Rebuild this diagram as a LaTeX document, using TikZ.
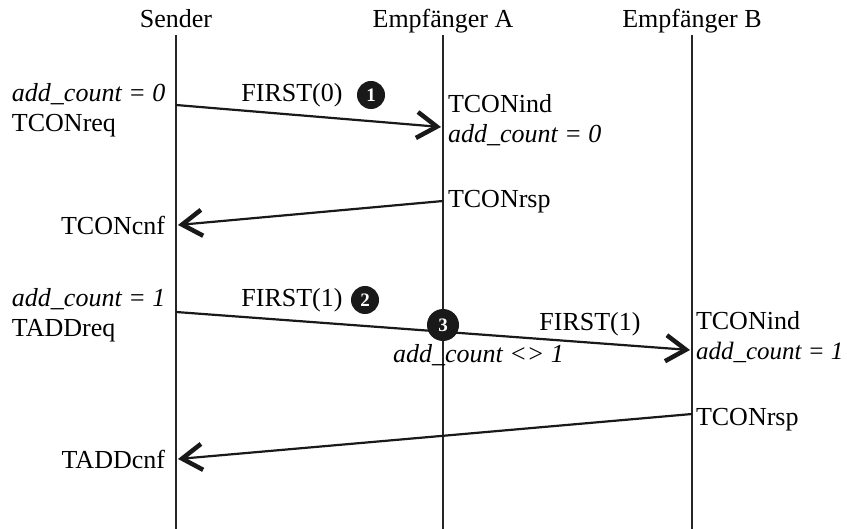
\documentclass[tikz,border=0pt]{standalone}
\usepackage{fontspec}
\setmainfont{Liberation Serif}
\usetikzlibrary{arrows.meta}
\begin{document}
\begin{tikzpicture}[x=1pt,y=-1pt,
  every node/.style={inner sep=0pt,outer sep=0pt,font=\fontsize{26}{28}\selectfont},
  life/.style={line width=2.2pt,draw=black!85},
  msg/.style={line width=2.2pt,draw=black!90,-{Straight Barb[length=20pt,width=26pt,line width=4.5pt]}},
  num/.style={circle,fill=black!90,text=white,minimum size=28pt,font=\fontsize{19}{19}\selectfont\bfseries},
  numbig/.style={num,minimum size=32pt},
  it/.style={font=\fontsize{26}{28}\selectfont\itshape},
  itsmall/.style={font=\fontsize{25}{28}\selectfont\itshape}]
\useasboundingbox (0,0) rectangle (847,529);
% headers
\node[anchor=base] (sender) at (176,28) {Sender};
\node[anchor=base] (empA) at (443,28) {Empfänger A};
\node[anchor=base] (empB) at (692,28) {Empfänger B};
% lifelines
\coordinate (s0) at (176,35); \coordinate (s1) at (176,529);
\coordinate (a0) at (443,35); \coordinate (a1) at (443,529);
\coordinate (b0) at (692,35); \coordinate (b1) at (692,529);
\draw[life] (s0) -- (s1);
\draw[life] (a0) -- (a1);
\draw[life] (b0) -- (b1);
% message end points
\coordinate (m1s) at (176,105); \coordinate (m1e) at (441,127);
\coordinate (m2s) at (443,201); \coordinate (m2e) at (178,225);
\coordinate (m3s) at (176,312); \coordinate (m3e) at (690,350);
\coordinate (m4s) at (692,414); \coordinate (m4e) at (178,459);
\draw[msg] (m1s) -- (m1e);
\draw[msg] (m2s) -- (m2e);
\draw[msg] (m3s) -- (m3e);
\draw[msg] (m4s) -- (m4e);
% left texts
\node[it,anchor=base west] (ac0) at (12,102) {add\_count = 0};
\node[anchor=base west] (tconreq) at (12,132) {TCONreq};
\node[anchor=base east] (tconcnf) at (165,235) {TCONcnf};
\node[it,anchor=base west] (ac1) at (12,307) {add\_count = 1};
\node[anchor=base west] (taddreq) at (12,337) {TADDreq};
\node[anchor=base east] (taddcnf) at (165,468) {TADDcnf};
% receiver A texts
\node[anchor=base west] (tconindA) at (448,113) {TCONind};
\node[it,anchor=base west] (acA) at (448,143) {add\_count = 0};
\node[anchor=base west] (tconrspA) at (448,208) {TCONrsp};
% receiver B texts
\node[anchor=base west] (tconindB) at (696,330) {TCONind};
\node[itsmall,anchor=base west] (acB) at (696,360) {add\_count = 1};
\node[anchor=base west] (tconrspB) at (696,426) {TCONrsp};
% message labels
\node[anchor=base] (f0) at (292,102) {FIRST(0)};
\node[num] (n1) at (371,95) {1};
\node[anchor=base] (f1) at (292,307) {FIRST(1)};
\node[num] (n2) at (365,300) {2};
\node[numbig] (n3) at (443,325) {3};
\node[anchor=base] (f1b) at (590,331) {FIRST(1)};
\node[it,anchor=base west] (acne) at (393,363) {add\_count <> 1};
\end{tikzpicture}
\end{document}
